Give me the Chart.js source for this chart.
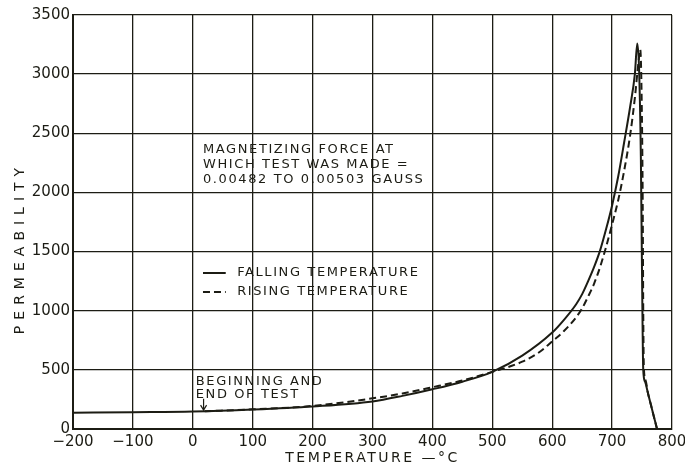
<!DOCTYPE html>
<html>
<head>
<meta charset="utf-8">
<script src="https://cdn.jsdelivr.net/npm/chart.js@4/dist/chart.umd.min.js"></script>
<style>
  html, body { margin: 0; padding: 0; background: #fff; }
  #wrap { width: 685px; height: 468px; }
</style>
</head>
<body>
<div id="wrap"><canvas id="chart"></canvas></div>
<script>
// Values
const xTickValues = [-200, -100, 0, 100, 200, 300, 400, 500, 600, 700, 800];
const yTickValues = [0, 500, 1000, 1500, 2000, 2500, 3000, 3500];

// falling temperature (solid)
const fallingTemp = [-200, -100, 0, 100, 200, 300, 350, 400, 450, 500, 550, 600, 620, 640, 650, 660, 670, 680, 690, 700, 710, 720, 730, 738, 742, 745, 748, 750, 752, 755, 760, 765, 770, 775];
const fallingPerm = [138, 142, 147, 164, 190, 233, 280, 336, 400, 483, 620, 815, 925, 1055, 1140, 1250, 1370, 1510, 1690, 1890, 2130, 2420, 2720, 3000, 3260, 3050, 2300, 1300, 500, 400, 300, 200, 100, 0];

// rising temperature (dashed)
const risingTemp = [20, 100, 200, 300, 350, 400, 450, 500, 550, 580, 600, 620, 640, 650, 660, 670, 680, 690, 700, 710, 720, 730, 738, 744, 747, 749, 751, 752, 753, 756, 760, 765, 770, 775];
const risingPerm = [150, 166, 195, 259, 300, 353, 410, 483, 569, 655, 741, 830, 945, 1020, 1120, 1230, 1370, 1540, 1730, 1930, 2180, 2480, 2800, 3100, 3207, 2900, 2000, 1000, 520, 410, 300, 200, 100, 0];

const ink = '#1c1c14';
const font = 'DejaVu Sans';

function toPoints(xs, ys) {
    return xs.map((x, i) => ({ x: x, y: ys[i] }));
}

// axis titles, notes and legend, drawn with letter spacing like the original
const notes = {
    id: 'notes',
    afterDraw(chart) {
        const ctx = chart.ctx;
        const xs = chart.scales.x, ys = chart.scales.y;
        const area = chart.chartArea;
        ctx.save();
        ctx.fillStyle = ink;
        ctx.strokeStyle = ink;
        ctx.textBaseline = 'middle';

        // axis titles
        ctx.font = '14px "' + font + '"';
        ctx.letterSpacing = '2.5px';
        ctx.textAlign = 'center';
        ctx.fillText('TEMPERATURE —°C', (area.left + area.right) / 2, 458);
        ctx.save();
        ctx.translate(20, 248);
        ctx.rotate(-Math.PI / 2);
        ctx.letterSpacing = '6px';
        ctx.fillText('PERMEABILITY', 0, 0);
        ctx.restore();

        ctx.font = '13px "' + font + '"';
        ctx.letterSpacing = '1.6px';
        ctx.textAlign = 'left';

        const left = xs.getPixelForValue(17);
        const magLines = ['MAGNETIZING FORCE AT', 'WHICH TEST WAS MADE =', '0.00482 TO 0.00503 GAUSS'];
        const magY = [2358, 2232, 2105];
        magLines.forEach((t, i) => ctx.fillText(t, left, ys.getPixelForValue(magY[i])));

        // legend
        const legY = [1319, 1158];
        const legText = ['FALLING TEMPERATURE', 'RISING TEMPERATURE'];
        const legDash = [[], [7, 4]];
        ctx.lineWidth = 2;
        legText.forEach((t, i) => {
            const y = ys.getPixelForValue(legY[i]);
            ctx.setLineDash(legDash[i]);
            ctx.beginPath();
            ctx.moveTo(left, y);
            ctx.lineTo(xs.getPixelForValue(55), y);
            ctx.stroke();
            ctx.fillText(t, xs.getPixelForValue(74), y);
        });
        ctx.setLineDash([]);

        // beginning / end note with small arrow
        const bx = xs.getPixelForValue(5);
        ctx.fillText('BEGINNING AND', bx, ys.getPixelForValue(397));
        ctx.fillText('END OF TEST', bx, ys.getPixelForValue(287));
        const ax = xs.getPixelForValue(18);
        const ay0 = ys.getPixelForValue(255), ay1 = ys.getPixelForValue(160);
        ctx.lineWidth = 1.2;
        ctx.beginPath();
        ctx.moveTo(ax, ay0);
        ctx.lineTo(ax, ay1);
        ctx.moveTo(ax - 3, ay1 - 5);
        ctx.lineTo(ax, ay1);
        ctx.lineTo(ax + 3, ay1 - 5);
        ctx.stroke();
        ctx.restore();
    }
};

new Chart(document.getElementById('chart'), {
    type: 'scatter',
    data: {
        datasets: [{
            label: 'FALLING TEMPERATURE',
            data: toPoints(fallingTemp, fallingPerm),
            showLine: true,
            borderColor: ink,
            borderWidth: 2,
            pointRadius: 0,
            cubicInterpolationMode: 'monotone'
        }, {
            label: 'RISING TEMPERATURE',
            data: toPoints(risingTemp, risingPerm),
            showLine: true,
            borderColor: ink,
            borderWidth: 2,
            borderDash: [7, 4],
            pointRadius: 0,
            cubicInterpolationMode: 'monotone'
        }]
    },
    options: {
        responsive: true,
        maintainAspectRatio: false,
        animation: false,
        layout: { padding: { top: 15, right: 0, left: 0, bottom: 0 } },
        plugins: {
            legend: { display: false },
            tooltip: { enabled: false }
        },
        scales: {
            x: {
                type: 'linear',
                min: -200,
                max: 800,
                afterBuildTicks: s => { s.ticks = xTickValues.map(v => ({ value: v })); },
                afterFit: s => { s.height = 39; s.paddingRight = 13; },
                grid: { color: ink, lineWidth: 1.3, drawTicks: false },
                border: { color: ink, width: 2 },
                ticks: {
                    color: ink,
                    padding: 4,
                    maxRotation: 0,
                    font: { family: font, size: 15 },
                    callback: v => String(v).replace('-', '\u2212')
                }
            },
            y: {
                type: 'linear',
                min: 0,
                max: 3500,
                afterBuildTicks: s => { s.ticks = yTickValues.map(v => ({ value: v })); },
                afterFit: s => { s.width = 73; },
                grid: { color: ink, lineWidth: 1.3, drawTicks: false },
                border: { color: ink, width: 2 },
                ticks: {
                    color: ink,
                    padding: 3,
                    font: { family: font, size: 15 },
                    callback: v => String(v)
                }
            }
        }
    },
    plugins: [notes]
});
</script>
</body>
</html>
